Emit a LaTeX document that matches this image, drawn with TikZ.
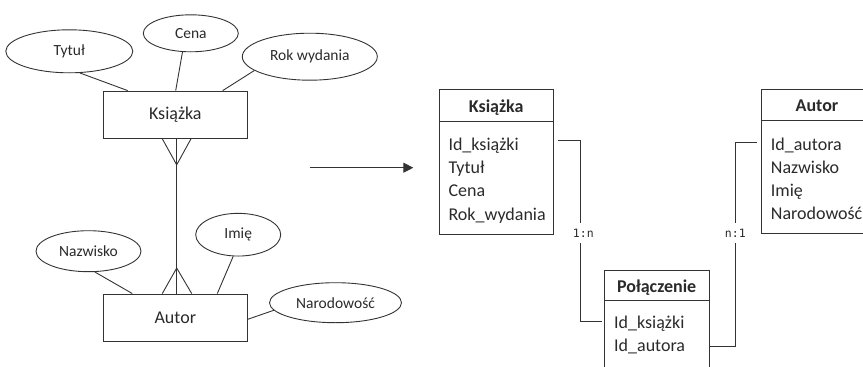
\documentclass[tikz,border=0pt]{standalone}
\usepackage{fontspec}
\setmainfont{Carlito}
\newfontfamily\labfont{DejaVu Sans Mono}
\usetikzlibrary{shapes.geometric,calc,arrows.meta}
\definecolor{ln}{HTML}{333333}
\definecolor{tx}{HTML}{2A2A2A}
\begin{document}
\begin{tikzpicture}[x=1pt,y=-1pt,
  every node/.style={text=tx},
  attr/.style={draw=ln, line width=0.9pt, ellipse, inner sep=0pt, font=\fontsize{15.5}{18}\selectfont},
  ent/.style={draw=ln, line width=0.9pt, rectangle, inner sep=0pt, font=\fontsize{18}{22}\selectfont},
  conn/.style={draw=ln, line width=0.9pt},
  tbox/.style={draw=ln, line width=1pt, anchor=north west, inner sep=0pt},
  htxt/.style={anchor=base, inner sep=0pt, font=\fontsize{18}{22}\selectfont\bfseries},
  row/.style={anchor=base west, inner sep=0pt, font=\fontsize{18}{22}\selectfont},
  card/.style={inner xsep=0pt, inner ysep=6pt, font=\labfont\fontsize{11.5}{13}\selectfont}]
\useasboundingbox (0,0) rectangle (863,367);

% ---------- left ER diagram ----------
\node[attr, minimum width=127, minimum height=43] (tytul) at (69.3,51.3) {Tytuł};
\node[attr, minimum width=95, minimum height=37] (cena) at (190.8,33.3) {Cena};
\node[attr, minimum width=135, minimum height=47] (rok) at (309.8,56.7) {Rok wydania};
\node[ent, minimum width=144, minimum height=47.3] (ks) at (175.3,114.7) {Książka};
\node[attr, minimum width=105, minimum height=41] (nazw) at (88.5,251.2) {Nazwisko};
\node[attr, minimum width=85, minimum height=42.7] (imie) at (238.2,234.7) {Imię};
\node[attr, minimum width=132, minimum height=40] (narod) at (335.5,302.7) {Narodowość};
\node[ent, minimum width=144, minimum height=47] (au) at (175.3,317.5) {Autor};

\draw[conn] (tytul.-64) -- ($(ks.north)+(-47.6,0)$);
\draw[conn] (cena.-114) -- ($(ks.north)+(0.4,0)$);
\draw[conn] (rok.-166) -- ($(ks.north)+(47.4,0)$);
\draw[conn] (nazw.-73) -- ($(au.north)+(-43,0)$);
\draw[conn] (imie.-103) -- ($(au.north)+(42,0)$);
\draw[conn] (narod.-173) -- ($(au.east)+(0,1.8)$);

% crow's feet and relation line
\coordinate (kf) at ($(ks.south)+(1.4,26)$);
\draw[conn] ($(ks.south)+(-13,0)$) -- (kf) -- ($(ks.south)+(15.7,0)$);
\coordinate (af) at ($(au.north)+(1.4,-25.5)$);
\draw[conn] ($(au.north)+(-13,0)$) -- (af) -- ($(au.north)+(16.4,0)$);
\draw[conn] ($(ks.south)+(1.4,0)$) -- ($(au.north)+(1.4,0)$);

% arrow
\coordinate (arrS) at (310,167.7);
\coordinate (arrE) at (413.3,167.7);
\draw[conn, -{Triangle[length=10pt,width=10pt]}] (arrS) -- (arrE);

% ---------- right relational tables ----------
% Ksiazka
\node[tbox, minimum width=114.3, minimum height=113.3] (ktb) at (439,120.7) {};
\node[tbox, minimum width=114.3, minimum height=31.4] (kth) at (439,89.3) {};
\node[htxt] (kthT) at (496.2,112.3) {Książka};
\node[row] (k1) at (448.3,150) {Id\_książki};
\node[row] (k2) at (448.3,173.4) {Tytuł};
\node[row] (k3) at (448.3,196.7) {Cena};
\node[row] (k4) at (448.3,220) {Rok\_wydania};

% Autor
\node[tbox, minimum width=112, minimum height=113] (atb) at (761,120) {};
\node[tbox, minimum width=112, minimum height=30.7] (ath) at (761,89.3) {};
\node[htxt] (athT) at (817,111.7) {Autor};
\node[row] (a1) at (770.7,150) {Id\_autora};
\node[row] (a2) at (770.7,173.4) {Nazwisko};
\node[row] (a3) at (770.7,196.7) {Imię};
\node[row] (a4) at (770.7,219.6) {Narodowość};

% Polaczenie
\node[tbox, minimum width=105.3, minimum height=90] (pcb) at (604,300) {};
\node[tbox, minimum width=105.3, minimum height=30] (pch) at (604,270) {};
\node[htxt] (pchT) at (656.7,292.5) {Połączenie};
\node[row] (p1) at (614,328.3) {Id\_książki};
\node[row] (p2) at (614,351.3) {Id\_autora};

% cardinalities and connectors
\node[card] (c1) at (583.3,233) {1:n};
\node[card] (c2) at (735.3,233) {n:1};
\draw[conn] ($(ktb.north east)+(4,20)$) -| ($(c1.north)+(-3.3,0)$);
\draw[conn] ($(c1.south)+(-3.3,0)$) |- ($(pcb.north west)+(-2,21)$);
\draw[conn] ($(pcb.north east)+(0,46)$) -| (c2.south);
\draw[conn] (c2.north) |- ($(atb.north west)+(-3.7,22)$);
\end{tikzpicture}
\end{document}
